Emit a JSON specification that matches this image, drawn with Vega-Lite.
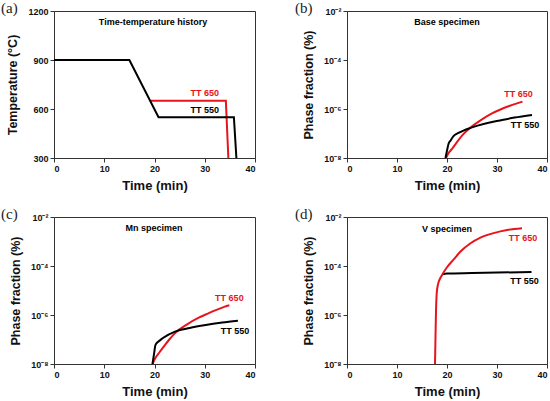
{
  "$schema": "https://vega.github.io/schema/vega-lite/v6.json",
  "padding": {"left": 0, "top": 0, "right": 2, "bottom": 0},
  "config": {
    "view": {"stroke": "#333", "strokeWidth": 1},
    "font": "Liberation Sans",
    "axis": {"labelFont": "Liberation Sans", "labelFontWeight": "bold", "labelFontSize": 9, "labelColor": "#111", "titleFont": "Liberation Sans", "titleFontWeight": "bold", "titleFontSize": 13, "titleColor": "#111", "grid": false, "domainColor": "#333", "tickColor": "#333", "tickSize": 4, "labelPadding": 2},
    "axisX": {"titlePadding": 6},
    "axisY": {"titlePadding": 8, "titleFontSize": 12.5},
    "title": {"font": "Liberation Serif", "fontSize": 15, "fontWeight": "normal", "anchor": "start", "frame": "group", "color": "#222", "offset": 0}
  },
  "datasets": {
    "a": [
      {"s": "TT 650", "t": 19.3, "v": 650},
      {"s": "TT 650", "t": 34.2, "v": 650},
      {"s": "TT 650", "t": 34.7, "v": 300},
      {"s": "TT 550", "t": 0, "v": 900},
      {"s": "TT 550", "t": 15, "v": 900},
      {"s": "TT 550", "t": 20.8, "v": 550},
      {"s": "TT 550", "t": 35.8, "v": 550},
      {"s": "TT 550", "t": 36.3, "v": 300}
    ],
    "a_lab": [
      {"s": "TT 650", "t": 30, "v": 698, "label": "TT 650"},
      {"s": "TT 550", "t": 30, "v": 591, "label": "TT 550"},
      {"s": "note", "t": 19.7, "v": 1132, "label": "Time-temperature history"}
    ],
    "b": [
      {"s": "TT 650", "t": 19.8, "v": 1e-8},
      {"s": "TT 650", "t": 20.3, "v": 1.58e-8},
      {"s": "TT 650", "t": 21, "v": 2.34e-8},
      {"s": "TT 650", "t": 22, "v": 4.47e-8},
      {"s": "TT 650", "t": 23, "v": 8.13e-8},
      {"s": "TT 650", "t": 25, "v": 1.95e-7},
      {"s": "TT 650", "t": 27, "v": 3.8e-7},
      {"s": "TT 650", "t": 29, "v": 6.61e-7},
      {"s": "TT 650", "t": 30.7, "v": 9.55e-7},
      {"s": "TT 650", "t": 32.3, "v": 1.29e-6},
      {"s": "TT 650", "t": 34, "v": 1.7e-6},
      {"s": "TT 650", "t": 35.1, "v": 2.0e-6},
      {"s": "TT 550", "t": 19.7, "v": 1e-8},
      {"s": "TT 550", "t": 20.0, "v": 2.0e-8},
      {"s": "TT 550", "t": 20.3, "v": 3.72e-8},
      {"s": "TT 550", "t": 20.7, "v": 5.13e-8},
      {"s": "TT 550", "t": 21.3, "v": 7.76e-8},
      {"s": "TT 550", "t": 22.3, "v": 1.05e-7},
      {"s": "TT 550", "t": 25, "v": 1.78e-7},
      {"s": "TT 550", "t": 27.5, "v": 2.51e-7},
      {"s": "TT 550", "t": 30.3, "v": 3.31e-7},
      {"s": "TT 550", "t": 33.5, "v": 4.47e-7},
      {"s": "TT 550", "t": 37, "v": 5.75e-7}
    ],
    "b_lab": [
      {"s": "TT 650", "t": 34.3, "v": 4.07e-6, "label": "TT 650"},
      {"s": "TT 550", "t": 35.6, "v": 2.24e-7, "label": "TT 550"},
      {"s": "note", "t": 20, "v": 3.63e-3, "label": "Base specimen"}
    ],
    "c": [
      {"s": "TT 650", "t": 19.6, "v": 1e-8},
      {"s": "TT 650", "t": 20.2, "v": 1.78e-8},
      {"s": "TT 650", "t": 20.9, "v": 2.82e-8},
      {"s": "TT 650", "t": 22, "v": 5.62e-8},
      {"s": "TT 650", "t": 22.9, "v": 9.77e-8},
      {"s": "TT 650", "t": 24.2, "v": 1.91e-7},
      {"s": "TT 650", "t": 26.5, "v": 4.17e-7},
      {"s": "TT 650", "t": 28.9, "v": 7.94e-7},
      {"s": "TT 650", "t": 30.5, "v": 1.12e-6},
      {"s": "TT 650", "t": 32.2, "v": 1.58e-6},
      {"s": "TT 650", "t": 34, "v": 2.19e-6},
      {"s": "TT 650", "t": 34.9, "v": 2.51e-6},
      {"s": "TT 550", "t": 19.6, "v": 1e-8},
      {"s": "TT 550", "t": 19.9, "v": 2.51e-8},
      {"s": "TT 550", "t": 20.2, "v": 6.03e-8},
      {"s": "TT 550", "t": 20.8, "v": 8.32e-8},
      {"s": "TT 550", "t": 21.6, "v": 1.12e-7},
      {"s": "TT 550", "t": 24.2, "v": 2.14e-7},
      {"s": "TT 550", "t": 27, "v": 2.95e-7},
      {"s": "TT 550", "t": 30.2, "v": 3.89e-7},
      {"s": "TT 550", "t": 33.5, "v": 4.9e-7},
      {"s": "TT 550", "t": 36.6, "v": 5.89e-7}
    ],
    "c_lab": [
      {"s": "TT 650", "t": 34.9, "v": 5.0e-6, "label": "TT 650"},
      {"s": "TT 550", "t": 36, "v": 2.24e-7, "label": "TT 550"},
      {"s": "note", "t": 19.9, "v": 3.47e-3, "label": "Mn specimen"}
    ],
    "d": [
      {"s": "TT 550", "t": 19.1, "v": 4.6e-5},
      {"s": "TT 550", "t": 20, "v": 4.9e-5},
      {"s": "TT 550", "t": 25, "v": 5.13e-5},
      {"s": "TT 550", "t": 30, "v": 5.37e-5},
      {"s": "TT 550", "t": 36.9, "v": 5.75e-5},
      {"s": "TT 650", "t": 17.6, "v": 1e-8},
      {"s": "TT 650", "t": 17.7, "v": 1.26e-7},
      {"s": "TT 650", "t": 17.8, "v": 1.41e-6},
      {"s": "TT 650", "t": 17.95, "v": 7.94e-6},
      {"s": "TT 650", "t": 18.2, "v": 1.78e-5},
      {"s": "TT 650", "t": 18.6, "v": 3.02e-5},
      {"s": "TT 650", "t": 19.0, "v": 4.27e-5},
      {"s": "TT 650", "t": 20.0, "v": 8.91e-5},
      {"s": "TT 650", "t": 21.3, "v": 1.82e-4},
      {"s": "TT 650", "t": 22.7, "v": 3.89e-4},
      {"s": "TT 650", "t": 24.7, "v": 8.51e-4},
      {"s": "TT 650", "t": 26.7, "v": 1.45e-3},
      {"s": "TT 650", "t": 29.3, "v": 2.19e-3},
      {"s": "TT 650", "t": 32, "v": 2.95e-3},
      {"s": "TT 650", "t": 35, "v": 3.47e-3}
    ],
    "d_lab": [
      {"s": "TT 650", "t": 35.2, "v": 1.38e-3, "label": "TT 650"},
      {"s": "TT 550", "t": 35.5, "v": 2.5e-5, "label": "TT 550"},
      {"s": "note", "t": 20, "v": 3.16e-3, "label": "V specimen"}
    ]
  },
  "spacing": 13,
  "vconcat": [
    {
      "spacing": 38,
      "hconcat": [
        {
          "width": 201, "height": 147,
          "title": {"text": "(a)", "dx": -53, "offset": -9},
          "layer": [
            {
              "data": {"name": "a"},
              "mark": {"type": "line", "strokeWidth": 2},
              "encoding": {
                "x": {"field": "t", "type": "quantitative", "scale": {"domain": [0, 40]}, "axis": {"values": [0, 10, 20, 30, 40], "title": "Time (min)"}},
                "y": {"field": "v", "type": "quantitative", "scale": {"domain": [300, 1200]}, "axis": {"values": [300, 600, 900, 1200], "format": "d", "title": "Temperature (°C)"}},
                "color": {"field": "s", "type": "nominal", "scale": {"domain": ["TT 550", "TT 650", "note"], "range": ["#000000", "#e8141c", "#000000"]}, "legend": null}
              }
            },
            {
              "data": {"name": "a_lab"},
              "mark": {"type": "text", "fontWeight": "bold", "fontSize": 9},
              "encoding": {
                "x": {"field": "t", "type": "quantitative"},
                "y": {"field": "v", "type": "quantitative"},
                "text": {"field": "label"},
                "color": {"field": "s", "type": "nominal", "legend": null}
              }
            }
          ]
        },
        {
          "width": 200, "height": 147,
          "title": {"text": "(b)", "dx": -52, "offset": -9},
          "layer": [
            {
              "data": {"name": "b"},
              "mark": {"type": "line", "strokeWidth": 2, "interpolate": "monotone"},
              "encoding": {
                "x": {"field": "t", "type": "quantitative", "scale": {"domain": [0, 40]}, "axis": {"values": [0, 10, 20, 30, 40], "title": "Time (min)"}},
                "y": {"field": "v", "type": "quantitative", "scale": {"type": "log", "domain": [1e-8, 1e-2]}, "axis": {"values": [1e-8, 1e-6, 1e-4, 1e-2], "title": "Phase fraction (%)", "labelExpr": "datum.value < 1e-7 ? '10⁻⁸' : datum.value < 1e-5 ? '10⁻⁶' : datum.value < 1e-3 ? '10⁻⁴' : '10⁻²'"}},
                "color": {"field": "s", "type": "nominal", "scale": {"domain": ["TT 550", "TT 650", "note"], "range": ["#000000", "#e8141c", "#000000"]}, "legend": null}
              }
            },
            {
              "data": {"name": "b_lab"},
              "mark": {"type": "text", "fontWeight": "bold", "fontSize": 9},
              "encoding": {
                "x": {"field": "t", "type": "quantitative"},
                "y": {"field": "v", "type": "quantitative"},
                "text": {"field": "label"},
                "color": {"field": "s", "type": "nominal", "legend": null}
              }
            }
          ]
        }
      ]
    },
    {
      "spacing": 38,
      "hconcat": [
        {
          "width": 201, "height": 147,
          "title": {"text": "(c)", "dx": -53, "offset": -9},
          "layer": [
            {
              "data": {"name": "c"},
              "mark": {"type": "line", "strokeWidth": 2, "interpolate": "monotone"},
              "encoding": {
                "x": {"field": "t", "type": "quantitative", "scale": {"domain": [0, 40]}, "axis": {"values": [0, 10, 20, 30, 40], "title": "Time (min)"}},
                "y": {"field": "v", "type": "quantitative", "scale": {"type": "log", "domain": [1e-8, 1e-2]}, "axis": {"values": [1e-8, 1e-6, 1e-4, 1e-2], "title": "Phase fraction (%)", "labelExpr": "datum.value < 1e-7 ? '10⁻⁸' : datum.value < 1e-5 ? '10⁻⁶' : datum.value < 1e-3 ? '10⁻⁴' : '10⁻²'"}},
                "color": {"field": "s", "type": "nominal", "scale": {"domain": ["TT 550", "TT 650", "note"], "range": ["#000000", "#e8141c", "#000000"]}, "legend": null}
              }
            },
            {
              "data": {"name": "c_lab"},
              "mark": {"type": "text", "fontWeight": "bold", "fontSize": 9},
              "encoding": {
                "x": {"field": "t", "type": "quantitative"},
                "y": {"field": "v", "type": "quantitative"},
                "text": {"field": "label"},
                "color": {"field": "s", "type": "nominal", "legend": null}
              }
            }
          ]
        },
        {
          "width": 200, "height": 147,
          "title": {"text": "(d)", "dx": -52, "offset": -9},
          "layer": [
            {
              "data": {"name": "d"},
              "mark": {"type": "line", "strokeWidth": 2, "interpolate": "monotone"},
              "encoding": {
                "x": {"field": "t", "type": "quantitative", "scale": {"domain": [0, 40]}, "axis": {"values": [0, 10, 20, 30, 40], "title": "Time (min)"}},
                "y": {"field": "v", "type": "quantitative", "scale": {"type": "log", "domain": [1e-8, 1e-2]}, "axis": {"values": [1e-8, 1e-6, 1e-4, 1e-2], "title": "Phase fraction (%)", "labelExpr": "datum.value < 1e-7 ? '10⁻⁸' : datum.value < 1e-5 ? '10⁻⁶' : datum.value < 1e-3 ? '10⁻⁴' : '10⁻²'"}},
                "color": {"field": "s", "type": "nominal", "scale": {"domain": ["TT 550", "TT 650", "note"], "range": ["#000000", "#e8141c", "#000000"]}, "legend": null}
              }
            },
            {
              "data": {"name": "d_lab"},
              "mark": {"type": "text", "fontWeight": "bold", "fontSize": 9},
              "encoding": {
                "x": {"field": "t", "type": "quantitative"},
                "y": {"field": "v", "type": "quantitative"},
                "text": {"field": "label"},
                "color": {"field": "s", "type": "nominal", "legend": null}
              }
            }
          ]
        }
      ]
    }
  ]
}
